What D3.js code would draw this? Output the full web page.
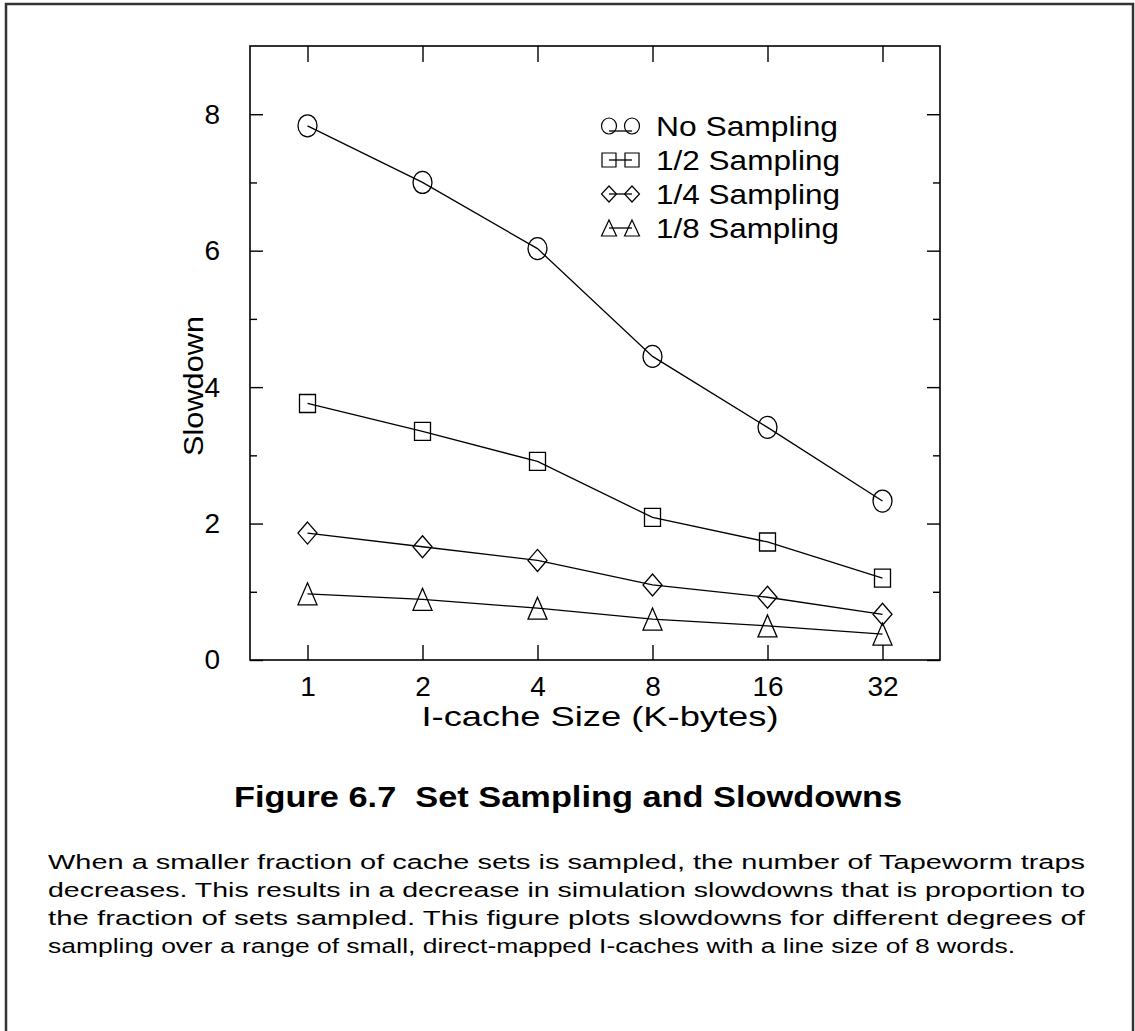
<!DOCTYPE html>
<html>
<head>
<meta charset="utf-8">
<script src="https://cdn.jsdelivr.net/npm/d3@7"></script>
<style>
  body { margin: 0; background: #fff; }
  svg { display: block; font-family: "Liberation Sans", Arial, Helvetica, sans-serif; }
  .axis path.domain { display: none; }
  .axis line { stroke: #000; stroke-width: 1.4; }
</style>
</head>
<body>
<div id="chart"></div>
<script>
var svgWidth = 1135;
var svgHeight = 1031;

// data
var cacheSizes = ["1", "2", "4", "8", "16", "32"];
var noSampling = [7.83, 7.0, 6.03, 4.45, 3.41, 2.33];
var halfSampling = [3.76, 3.35, 2.91, 2.09, 1.73, 1.2];
var quarterSampling = [1.86, 1.66, 1.46, 1.1, 0.92, 0.67];
var eighthSampling = [0.97, 0.89, 0.76, 0.6, 0.5, 0.38];
var seriesNames = ["No Sampling", "1/2 Sampling", "1/4 Sampling", "1/8 Sampling"];
var markerTypes = ["circle", "square", "diamond", "triangle"];
var yMajorTicks = [0, 2, 4, 6, 8];
var yMinorTicks = [1, 3, 5, 7];

var captionLines = [
  "When a smaller fraction of cache sets is sampled, the number of Tapeworm traps",
  "decreases. This results in a decrease in simulation slowdowns that is proportion to",
  "the fraction of sets sampled. This figure plots slowdowns for different degrees of",
  "sampling over a range of small, direct-mapped I-caches with a line size of 8 words."
];

var plot = { left: 250, top: 46, right: 940, bottom: 660 };

var svg = d3.select("#chart")
  .append("svg")
  .attr("width", svgWidth)
  .attr("height", svgHeight);

svg.append("rect")
  .attr("width", svgWidth)
  .attr("height", svgHeight)
  .attr("fill", "#fff");

// page frame (open at the bottom)
svg.append("path")
  .attr("d", "M6,1031 V4 H1133 V1031")
  .attr("fill", "none")
  .attr("stroke", "#333")
  .attr("stroke-width", 2.5);

var x = d3.scalePoint()
  .domain(cacheSizes)
  .range([plot.left, plot.right])
  .padding(0.5);

var y = d3.scaleLinear()
  .domain([0, 9])
  .range([plot.bottom, plot.top]);

// axes, ticks pointing inwards
svg.append("g")
  .attr("class", "axis")
  .attr("transform", `translate(0, ${plot.bottom})`)
  .call(d3.axisBottom(x).tickSize(-15).tickPadding(16))
  .selectAll("text")
  .attr("font-size", 28)
  .attr("fill", "#000")
  .attr("font-family", "inherit");

svg.append("g")
  .attr("class", "axis")
  .attr("transform", `translate(0, ${plot.top})`)
  .call(d3.axisTop(x).tickSize(-16).tickFormat(""));

svg.append("g")
  .attr("class", "axis")
  .attr("transform", `translate(${plot.left}, 0)`)
  .call(d3.axisLeft(y).tickValues(yMajorTicks).tickSize(-13).tickPadding(30))
  .selectAll("text")
  .attr("font-size", 28)
  .attr("fill", "#000")
  .attr("font-family", "inherit");

svg.append("g")
  .attr("class", "axis")
  .attr("transform", `translate(${plot.left}, 0)`)
  .call(d3.axisLeft(y).tickValues(yMinorTicks).tickSize(-7).tickFormat(""));

svg.append("g")
  .attr("class", "axis")
  .attr("transform", `translate(${plot.right}, 0)`)
  .call(d3.axisRight(y).tickValues(yMajorTicks).tickSize(-13).tickFormat(""));

svg.append("g")
  .attr("class", "axis")
  .attr("transform", `translate(${plot.right}, 0)`)
  .call(d3.axisRight(y).tickValues(yMinorTicks).tickSize(-7).tickFormat(""));

svg.append("rect")
  .attr("x", plot.left)
  .attr("y", plot.top)
  .attr("width", plot.right - plot.left)
  .attr("height", plot.bottom - plot.top)
  .attr("fill", "none")
  .attr("stroke", "#000")
  .attr("stroke-width", 1.6);

// marker shapes, centred on 0,0
function markerPath(type, w, h) {
  var a = w / 2, b = h / 2;
  if (type === "square") return `M${-a},${-b}H${a}V${b}H${-a}Z`;
  if (type === "diamond") return `M0,${-b}L${a},0L0,${b}L${-a},0Z`;
  if (type === "triangle") return `M0,${-b}L${a},${b}H${-a}Z`;
  return `M${-a},0A${a},${b} 0 1,0 ${a},0A${a},${b} 0 1,0 ${-a},0Z`;
}

var allSeries = [noSampling, halfSampling, quarterSampling, eighthSampling];

var line = d3.line()
  .x((d, i) => x(cacheSizes[i]))
  .y(d => y(d));

var seriesGroup = svg.append("g");

allSeries.forEach(function(values, k) {
  seriesGroup.append("path")
    .attr("d", line(values))
    .attr("fill", "none")
    .attr("stroke", "#000")
    .attr("stroke-width", 1.3);

  seriesGroup.selectAll(null)
    .data(values)
    .enter()
    .append("path")
    .attr("transform", (d, i) => `translate(${x(cacheSizes[i])}, ${y(d)})`)
    .attr("d", markerPath(markerTypes[k], markerTypes[k] === "square" ? 16 : 19, markerTypes[k] === "square" ? 18 : 22))
    .attr("fill", "none")
    .attr("stroke", "#000")
    .attr("stroke-width", 1.3);
});

// legend
var legendRows = [126, 160, 194, 228];
var legendWidths = [182, 184, 184, 183];
var legend = svg.append("g");

seriesNames.forEach(function(name, k) {
  var cy = legendRows[k];
  var lineY = markerTypes[k] === "circle" ? cy + 5 : cy;
  legend.append("line")
    .attr("x1", 609).attr("x2", 632)
    .attr("y1", lineY).attr("y2", lineY)
    .attr("stroke", "#000")
    .attr("stroke-width", 1.3);
  [609, 632].forEach(function(mx) {
    legend.append("path")
      .attr("transform", `translate(${mx}, ${cy})`)
      .attr("d", markerPath(markerTypes[k], markerTypes[k] === "square" ? 14 : 15, markerTypes[k] === "square" ? 14 : 16))
      .attr("fill", "none")
      .attr("stroke", "#000")
      .attr("stroke-width", 1.2);
  });
  legend.append("text")
    .attr("x", 656)
    .attr("y", cy + 10)
    .attr("font-size", 28)
    .attr("textLength", legendWidths[k])
    .attr("lengthAdjust", "spacingAndGlyphs")
    .text(name);
});

// axis titles
svg.append("text")
  .attr("x", 600)
  .attr("y", 726)
  .attr("text-anchor", "middle")
  .attr("font-size", 28)
  .attr("textLength", 357)
  .attr("lengthAdjust", "spacingAndGlyphs")
  .text("I-cache Size (K-bytes)");

svg.append("text")
  .attr("transform", "translate(203, 386) rotate(-90)")
  .attr("text-anchor", "middle")
  .attr("font-size", 28)
  .attr("textLength", 140)
  .attr("lengthAdjust", "spacingAndGlyphs")
  .text("Slowdown");

// figure caption
svg.append("text")
  .attr("x", 568)
  .attr("y", 807)
  .attr("text-anchor", "middle")
  .attr("font-size", 30)
  .attr("font-weight", "bold")
  .attr("textLength", 668)
  .attr("lengthAdjust", "spacingAndGlyphs")
  .style("white-space", "pre")
  .text("Figure 6.7  Set Sampling and Slowdowns");

var captionWidths = [1037, 1037, 1037, 967];
svg.append("g")
  .selectAll("text")
  .data(captionLines)
  .enter()
  .append("text")
  .attr("x", 48)
  .attr("y", (d, i) => 869 + i * 28)
  .attr("font-size", 20.5)
  .attr("textLength", (d, i) => captionWidths[i])
  .attr("lengthAdjust", "spacingAndGlyphs")
  .text(d => d);
</script>
</body>
</html>
